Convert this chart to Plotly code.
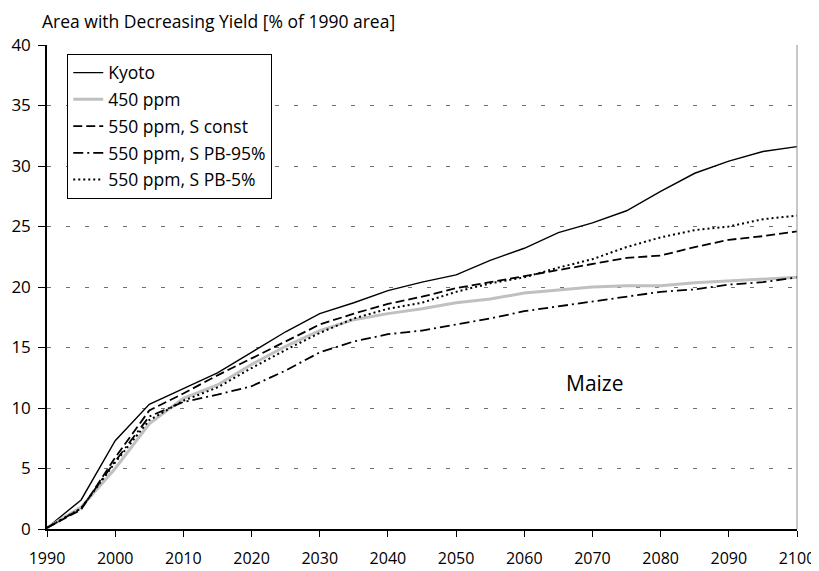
import plotly.graph_objects as go

# years on the x axis (5-year steps)
years = [1990, 1995, 2000, 2005, 2010, 2015, 2020, 2025, 2030, 2035, 2040, 2045,
         2050, 2055, 2060, 2065, 2070, 2075, 2080, 2085, 2090, 2095, 2100]

# area with decreasing yield, % of 1990 area
kyoto = [0.1, 2.4, 7.3, 10.3, 11.6, 12.9, 14.6, 16.3, 17.8, 18.7, 19.7, 20.4,
         21.0, 22.2, 23.2, 24.5, 25.3, 26.3, 27.9, 29.4, 30.4, 31.2, 31.6]
ppm450 = [0.1, 1.8, 5.0, 8.7, 10.8, 11.9, 13.6, 15.1, 16.4, 17.3, 17.8, 18.2,
          18.7, 19.0, 19.5, 19.75, 20.0, 20.1, 20.1, 20.35, 20.5, 20.6, 20.8]
s_const = [0.1, 1.6, 5.9, 9.8, 11.2, 12.7, 14.1, 15.5, 16.9, 17.8, 18.6, 19.2,
           19.9, 20.4, 20.9, 21.4, 21.9, 22.4, 22.6, 23.3, 23.9, 24.2, 24.6]
s_pb95 = [0.1, 1.7, 5.6, 9.3, 10.5, 11.1, 11.8, 13.1, 14.6, 15.5, 16.1, 16.4,
          16.9, 17.4, 18.0, 18.4, 18.8, 19.2, 19.6, 19.8, 20.2, 20.4, 20.8]
s_pb5 = [0.1, 1.7, 5.5, 9.0, 10.6, 11.7, 13.3, 14.8, 16.2, 17.4, 18.2, 18.7,
         19.6, 20.3, 20.8, 21.6, 22.3, 23.3, 24.1, 24.7, 25.0, 25.6, 25.9]

font = "Open Sans, DejaVu Sans, sans-serif"

fig = go.Figure()
fig.add_trace(go.Scatter(x=years, y=kyoto, name="Kyoto", mode="lines", legendgroup="a",
                         line=dict(color="black", width=1.4)))
fig.add_trace(go.Scatter(x=years, y=ppm450, name="450 ppm", mode="lines", legendgroup="b",
                         line=dict(color="#c0c0c0", width=3)))
fig.add_trace(go.Scatter(x=years, y=s_const, name="550 ppm, S const", mode="lines",
                         legendgroup="c",
                         line=dict(color="black", width=1.8, dash="9px,4px")))
fig.add_trace(go.Scatter(x=years, y=s_pb95, name="550 ppm, S PB-95%", mode="lines",
                         legendgroup="d",
                         line=dict(color="black", width=1.8, dash="10px,4px,2px,4px")))
fig.add_trace(go.Scatter(x=years, y=s_pb5, name="550 ppm, S PB-5%", mode="lines",
                         legendgroup="e",
                         line=dict(color="black", width=2, dash="2px,3px")))

fig.add_annotation(x=2070.4, y=12.1, text="Maize", showarrow=False,
                   font=dict(size=21, color="black"))

# grey frame on the right side
fig.add_shape(type="line", xref="paper", yref="paper", x0=1, x1=1, y0=0, y1=1,
              line=dict(color="#909090", width=1))

# page body adds an 8px margin, so the figure is a bit smaller than the window
fig.update_layout(
    width=811, height=563,
    margin=dict(l=39, r=22, t=37, b=42),
    paper_bgcolor="white", plot_bgcolor="white",
    font=dict(family=font, size=17.5, color="black"),
    title=dict(text="Area with Decreasing Yield [% of 1990 area]",
               xref="container", x=0.042, xanchor="left",
               yref="container", y=0.975, yanchor="middle",
               font=dict(size=17.5)),
    showlegend=True,
    legend=dict(x=0.027, y=0.982, xanchor="left", yanchor="top",
                bgcolor="white", bordercolor="black", borderwidth=1,
                font=dict(size=17.5), tracegroupgap=1),
)
fig.update_xaxes(range=[1990, 2100], tickvals=list(range(1990, 2101, 10)),
                 showgrid=False, zeroline=False, automargin=False,
                 showline=True, linecolor="black", linewidth=1.5,
                 tickfont=dict(size=16),
                 ticks="outside", ticklen=6, tickcolor="black", ticklabelstandoff=8)
fig.update_yaxes(range=[0, 40], dtick=5, showgrid=True, gridcolor="#707070",
                 griddash="4px,15px", gridwidth=1, zeroline=False, automargin=False,
                 showline=True, linecolor="black", linewidth=1.5,
                 tickfont=dict(size=17),
                 ticks="outside", ticklen=7, tickcolor="black", ticklabelstandoff=4)

fig.write_html("out.html")
